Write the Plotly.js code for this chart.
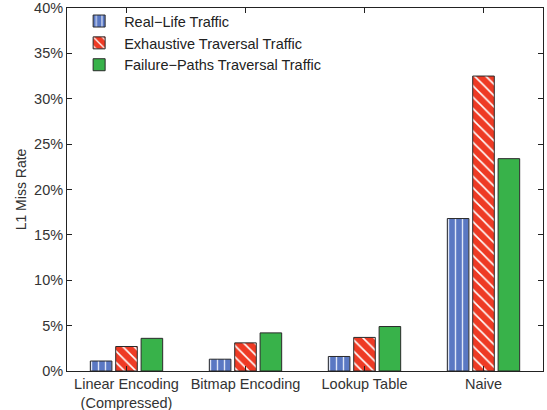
<!DOCTYPE html>
<html><head><meta charset="utf-8">
<script src="https://cdn.plot.ly/plotly-3.0.1.min.js"></script>
<style>body{margin:0;background:#fff}#c{width:547px;height:410px}</style>
</head><body><div id="c"></div>
<script>
const categories = ["Linear Encoding<br>(Compressed)", "Bitmap Encoding", "Lookup Table", "Naive"];
const seriesNames = ["Real\u2212Life Traffic", "Exhaustive Traversal Traffic", "Failure\u2212Paths Traversal Traffic"];
const realLife = [1.1, 1.3, 1.6, 16.8];
const exhaustive = [2.7, 3.1, 3.7, 32.5];
const failurePaths = [3.6, 4.2, 4.9, 23.4];
const yTickVals = [0, 5, 10, 15, 20, 25, 30, 35, 40];
const yTickText = ["0%", "5%", "10%", "15%", "20%", "25%", "30%", "35%", "40%"];

const line = {color: '#2a2a2a', width: 1};
const traces = [
  {type: 'bar', name: seriesNames[0], x: categories, y: realLife,
   marker: {color: '#5a78c3', line: line,
     pattern: {shape: '|', fgcolor: '#dfe6f7', bgcolor: '#5a78c3', size: 7, solidity: 0.2, fillmode: 'replace'}}},
  {type: 'bar', name: seriesNames[1], x: categories, y: exhaustive,
   marker: {color: '#ee3a24', line: line,
     pattern: {shape: '\\', fgcolor: '#ffffff', bgcolor: '#ee3a24', size: 8, solidity: 0.2, fillmode: 'replace'}}},
  {type: 'bar', name: seriesNames[2], x: categories, y: failurePaths,
   marker: {color: '#38b24a', line: line}}
];

const layout = {
  width: 547, height: 410,
  margin: {l: 67, r: 4, t: 8, b: 39},
  paper_bgcolor: '#fff', plot_bgcolor: '#fff',
  font: {family: 'Liberation Sans, Arial, sans-serif', size: 14.5, color: '#333'},
  barmode: 'group', bargap: 0.36, bargroupgap: 0.15,
  showlegend: true,
  legend: {x: 0.015, y: 1.008, xanchor: 'left', yanchor: 'top', bgcolor: 'rgba(255,255,255,0)',
    font: {size: 14.5, color: '#222'}, tracegroupgap: 0, itemwidth: 40},
  xaxis: {showline: true, linecolor: '#222', linewidth: 1, mirror: 'ticks',
    ticks: 'inside', ticklen: 5, tickcolor: '#222', showgrid: false,
    tickfont: {size: 14.5, color: '#333'}},
  yaxis: {range: [0, 40], tickvals: yTickVals, ticktext: yTickText,
    showline: true, linecolor: '#222', linewidth: 1, mirror: 'ticks',
    ticks: 'inside', ticklen: 5, tickcolor: '#222', showgrid: false, zeroline: false,
    ticklabeloverflow: 'allow',
    tickfont: {size: 14.5, color: '#333'},
    title: {text: 'L1 Miss Rate', font: {size: 14, color: '#333'}, standoff: 4}}
};
Plotly.newPlot('c', traces, layout, {displayModeBar: false, staticPlot: true});
</script></body></html>
